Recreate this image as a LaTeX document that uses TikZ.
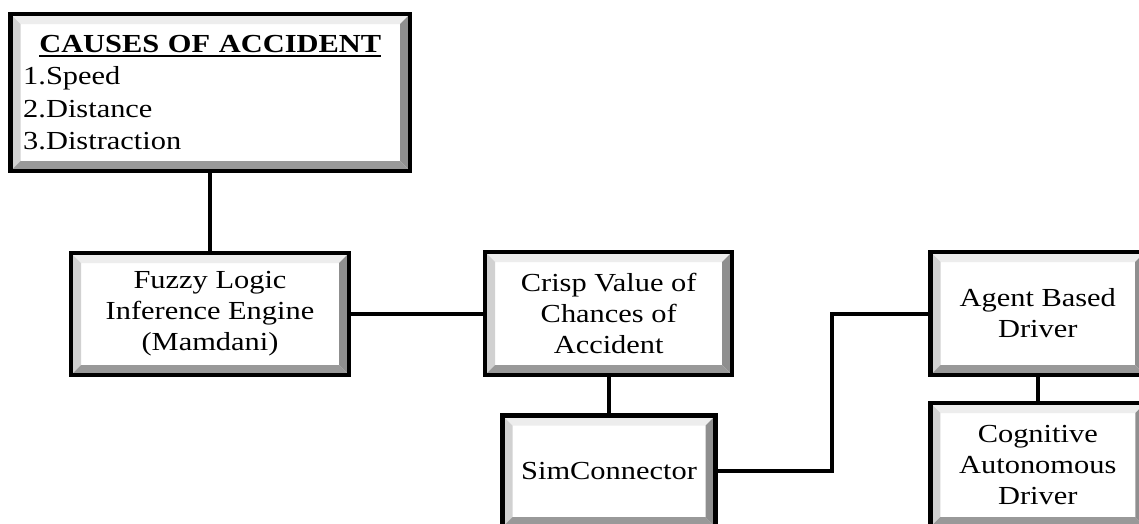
\documentclass[tikz,border=0pt]{standalone}
\usepackage{fontspec}
\setmainfont[FakeStretch=1.17]{Liberation Serif}
\usepackage{tikz}
\usetikzlibrary{calc,positioning}

\setlength{\parindent}{0pt}
\definecolor{bevtop}{gray}{0.93}
\definecolor{bevleft}{gray}{0.82}
\definecolor{bevright}{gray}{0.56}
\definecolor{bevbot}{gray}{0.60}

% bold title with a thick underline
\newcommand{\ulbold}[1]{\leavevmode\vtop{\hbox{\bfseries #1}\kern2.4pt\hrule height 1.6pt}}

\begin{document}
\begin{tikzpicture}[x=1pt,y=-1pt,
  bevel/.style={draw=black, line width=4.5pt, fill=white, align=center, inner sep=0pt,
    font=\fontsize{26}{31}\selectfont,
    path picture={
      \coordinate (tl) at (path picture bounding box.north west);
      \coordinate (tr) at (path picture bounding box.north east);
      \coordinate (bl) at (path picture bounding box.south west);
      \coordinate (br) at (path picture bounding box.south east);
      \fill[bevtop] (tl) -- (tr) -- ($(tr)+(-10pt,-10pt)$) -- ($(tl)+(10pt,-10pt)$) -- cycle;
      \fill[bevleft] (tl) -- (bl) -- ($(bl)+(10pt,10pt)$) -- ($(tl)+(10pt,-10pt)$) -- cycle;
      \fill[bevright] (tr) -- (br) -- ($(br)+(-10pt,10pt)$) -- ($(tr)+(-10pt,-10pt)$) -- cycle;
      \fill[bevbot] (bl) -- (br) -- ($(br)+(-10pt,10pt)$) -- ($(bl)+(10pt,10pt)$) -- cycle;
    }},
  link/.style={draw=black, line width=4pt}]

\useasboundingbox (0,0) rectangle (1139,523);
\clip (0,0) rectangle (1139,523);
\fill[white] (0,0) rectangle (1139,523);

% boxes
\node[bevel, minimum width=399.5pt, minimum height=157pt, text width=374pt, align=left,
      font=\fontsize{26}{32.3}\selectfont] (causes) at (210.25,92.5)
  {\hfill\ulbold{CAUSES OF ACCIDENT}\hfill\null\\1.Speed\\2.Distance\\3.Distraction};
\node[bevel, minimum width=278pt, minimum height=122pt] (fuzzy) at (210,314)
  {Fuzzy Logic\\Inference Engine\\(Mamdani)};
\node[bevel, minimum width=247pt, minimum height=123pt] (crisp) at (608.7,313.5)
  {Crisp Value of\\Chances of\\Accident};
\node[bevel, minimum width=213pt, minimum height=111.5pt] (sim) at (609,471.25)
  {SimConnector};
\node[bevel, minimum width=214.5pt, minimum height=123pt] (agent) at (1037.75,313.5)
  {Agent Based\\Driver};
\node[bevel, minimum width=215pt, minimum height=124pt] (cognitive) at (1037.75,465)
  {Cognitive\\Autonomous\\Driver};

% connectors
\coordinate (jog) at (832,392);
\path[link]
  (causes.south -| fuzzy.north) edge (fuzzy.north)
  (fuzzy.east) edge (fuzzy.east -| crisp.west)
  (crisp.south) edge (crisp.south |- sim.north)
  (agent.south) edge (cognitive.north);
\draw[link] (sim.east) -| (jog) |- (agent.west);

\end{tikzpicture}
\end{document}
